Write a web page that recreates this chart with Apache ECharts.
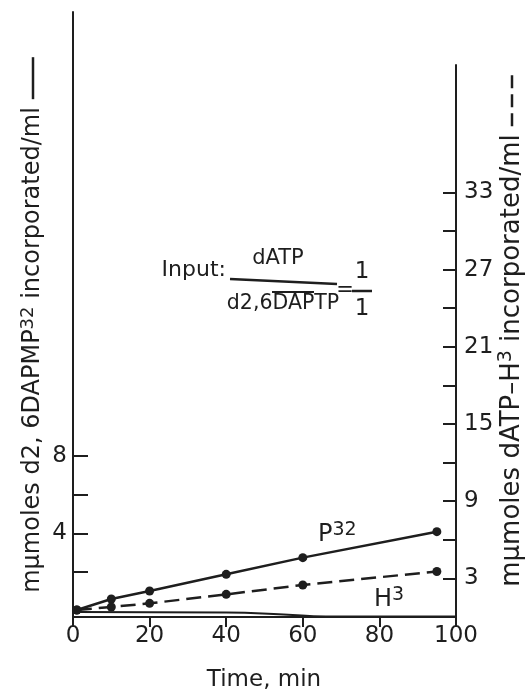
<!DOCTYPE html>
<html>
<head>
<meta charset="utf-8">
<script src="https://cdn.jsdelivr.net/npm/echarts@6/dist/echarts.min.js"></script>
<style>
  html, body { margin: 0; padding: 0; background: #fff; }
  #chart { width: 531px; height: 697px; }
</style>
</head>
<body>
<div id="chart"></div>
<script>
// Incorporation time course (minutes)
const timeMin = [1, 10, 20, 40, 60, 95];
// d2,6DAPMP-P32 incorporated (left axis, mμmoles/ml)
const p32Values = [0.05, 0.62, 1.03, 1.89, 2.75, 4.09];
// dATP-H3 incorporated (right axis, mμmoles/ml)
const h3Values = [0.54, 0.78, 1.06, 1.76, 2.49, 3.54];
// unmarked solid trace along the baseline (left axis)
const baseTime = [1, 40, 55, 66, 100];
const baseValues = [-0.05, -0.08, -0.18, -0.28, -0.28];

const xTicks = [0, 20, 40, 60, 80, 100];
const leftTicks = [2, 4, 6, 8];
const leftLabels = [4, 8];
const rightTicks = [3, 6, 9, 12, 15, 18, 21, 24, 27, 30, 33];
const rightLabels = [3, 9, 15, 21, 27, 33];

const INK = '#1e1e1e';
const FONT = 'DejaVu Sans';

const chart = echarts.init(document.getElementById('chart'), null, { renderer: 'canvas' });

function richSet(base, sup) {
  return {
    b: { fontFamily: FONT, fontSize: base, color: INK, lineHeight: base + 4 },
    s: { fontFamily: FONT, fontSize: sup, color: INK, lineHeight: sup, verticalAlign: 'top' },
    solid: { width: 42, height: 2.5, backgroundColor: INK, verticalAlign: 'middle', fontSize: 2, lineHeight: 2.5 },
    dash: { width: 13, height: 2.5, backgroundColor: INK, verticalAlign: 'middle', fontSize: 2, lineHeight: 2.5 },
    gap: { width: 8, fontSize: 2 },
    gap2: { width: 6, fontSize: 2 }
  };
}

function txt(x, y, text, style, rotation) {
  return {
    type: 'text', x: x, y: y, silent: true, rotation: rotation || 0,
    style: Object.assign({
      text: text, fill: INK, font: '21px "' + FONT + '"',
      textAlign: 'left', textVerticalAlign: 'top', rich: richSet(24, 19)
    }, style || {})
  };
}

function seg(x1, y1, x2, y2, w) {
  return { type: 'line', silent: true,
    shape: { x1: x1, y1: y1, x2: x2, y2: y2 },
    style: { stroke: INK, lineWidth: w || 2 } };
}

const f = (px) => px + 'px "' + FONT + '"';
const axisText = { color: INK, fontFamily: FONT, fontSize: 23 };

const option = {
  animation: false,
  backgroundColor: '#fff',
  grid: [
    { left: 73, right: 75, top: 12, bottom: 80 },
    { left: 73, right: 75, top: 65, bottom: 80 }
  ],
  xAxis: [
    {
      gridIndex: 0, type: 'value', min: 0, max: 100, interval: 20,
      axisLine: { onZero: false, lineStyle: { color: INK, width: 2 } },
      axisTick: { inside: false, length: 10, lineStyle: { color: INK, width: 2 } },
      axisLabel: Object.assign({ margin: 8, customValues: xTicks }, axisText),
      splitLine: { show: false }
    },
    { gridIndex: 1, type: 'value', min: 0, max: 100, show: false }
  ],
  yAxis: [
    {
      gridIndex: 0, type: 'value', position: 'left', min: -0.31, max: 30.88,
      axisLine: { show: true, onZero: false, lineStyle: { color: INK, width: 2 } },
      axisTick: { show: true, inside: true, length: 15, customValues: leftTicks,
        lineStyle: { color: INK, width: 2 } },
      axisLabel: Object.assign({ margin: 6, customValues: leftLabels }, axisText),
      splitLine: { show: false }
    },
    {
      gridIndex: 1, type: 'value', position: 'right', min: 0, max: 42.9,
      axisLine: { show: true, onZero: false, lineStyle: { color: INK, width: 2 } },
      axisTick: { show: true, inside: true, length: 13, customValues: rightTicks,
        lineStyle: { color: INK, width: 2 } },
      axisLabel: Object.assign({ margin: 8, customValues: rightLabels }, axisText),
      splitLine: { show: false }
    }
  ],
  series: [
    {
      name: 'base', type: 'line', xAxisIndex: 0, yAxisIndex: 0,
      data: baseTime.map((t, i) => [t, baseValues[i]]),
      showSymbol: false, smooth: true,
      lineStyle: { color: INK, width: 2 }, z: 2
    },
    {
      name: 'P32', type: 'line', xAxisIndex: 0, yAxisIndex: 0,
      data: timeMin.map((t, i) => [t, p32Values[i]]),
      symbol: 'circle', symbolSize: 9,
      itemStyle: { color: INK },
      lineStyle: { color: INK, width: 2.5 }, z: 3
    },
    {
      name: 'H3', type: 'line', xAxisIndex: 1, yAxisIndex: 1,
      data: timeMin.map((t, i) => [t, h3Values[i]]),
      symbol: 'circle', symbolSize: 9,
      itemStyle: { color: INK },
      lineStyle: { color: INK, width: 2.5, type: [15, 7] }, z: 3
    }
  ],
  graphic: [
    // axis titles
    txt(19, 325, '{b|mμmoles d2, 6DAPMP}{s|32}{b| incorporated/ml}{gap| }{solid| }',
      { textAlign: 'center', rich: richSet(24, 18) }, Math.PI / 2),
    txt(497, 331, '{b|mμmoles dATP–H}{s|3}{b| incorporated/ml}{gap| }{dash| }{gap2| }{dash| }{gap2| }{dash| }',
      { textAlign: 'center', rich: richSet(26, 19) }, Math.PI / 2),
    txt(264, 680, 'Time, min', { textAlign: 'center', textVerticalAlign: 'middle', font: f(23) }),
    // series tags
    txt(318, 521, '{b|P}{s|32}'),
    txt(374, 586, '{b|H}{s|3}'),
    // input ratio
    txt(226, 270, 'Input:', { textAlign: 'right', textVerticalAlign: 'middle', font: f(22) }),
    txt(278, 259, 'dATP', { textAlign: 'center', textVerticalAlign: 'middle', font: f(21) }),
    seg(230, 279, 337, 284, 2.5),
    txt(283, 304, 'd2,6DAPTP', { textAlign: 'center', textVerticalAlign: 'middle', font: f(20.5) }),
    seg(272, 292, 314, 292, 2),
    txt(345, 291, '=', { textAlign: 'center', textVerticalAlign: 'middle', font: f(21) }),
    txt(362, 272, '1', { textAlign: 'center', textVerticalAlign: 'middle', font: f(23) }),
    seg(352, 291, 372, 291, 2.5),
    txt(362, 309, '1', { textAlign: 'center', textVerticalAlign: 'middle', font: f(23) })
  ]
};

chart.setOption(option);
</script>
</body>
</html>
